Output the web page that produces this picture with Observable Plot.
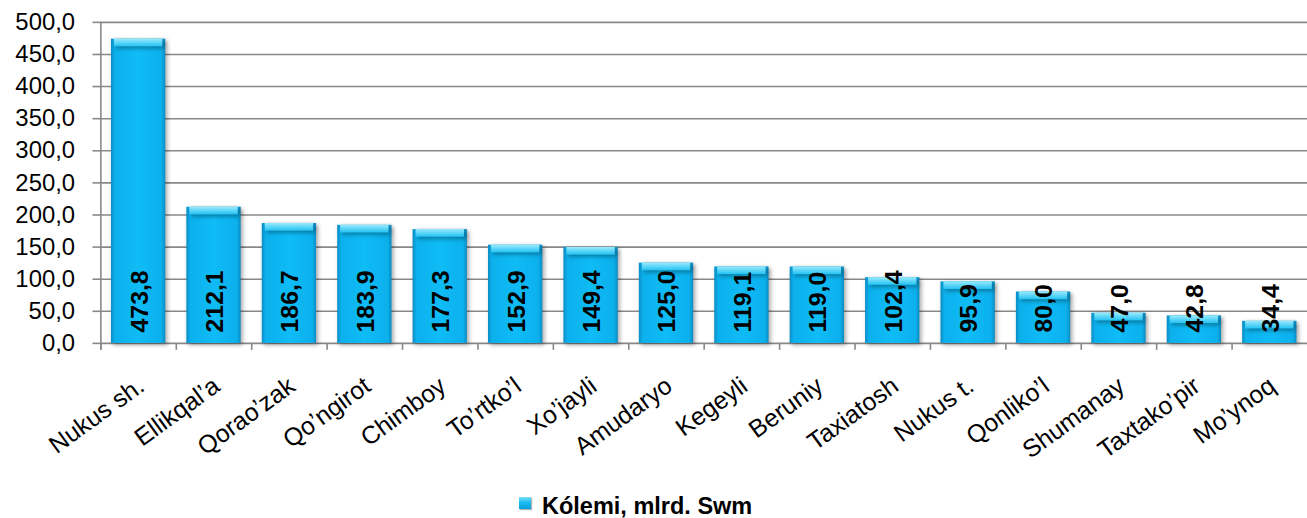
<!DOCTYPE html>
<html>
<head>
<meta charset="utf-8">
<script src="https://cdn.jsdelivr.net/npm/d3@7"></script>
<script src="https://cdn.jsdelivr.net/npm/@observablehq/plot@0.6"></script>
<style>
  html, body { margin: 0; padding: 0; background: #fff; overflow: hidden; }
  body { width: 1307px; height: 518px; position: relative; font-family: "Liberation Sans", Arial, sans-serif; }
  #chart svg { display: block; }
  .sw { position: absolute; left: 519px; top: 497px; width: 12px; height: 12px;
        background: linear-gradient(180deg, #7fe0fa 0%, #19bdf2 45%, #0a9fdc 100%);
        box-shadow: 1px 1px 1px rgba(0,0,0,0.3); }
  .lt { position: absolute; left: 542px; top: 494px; font: bold 23.5px "Liberation Sans", Arial, sans-serif;
        line-height: 24px; color: #000; white-space: nowrap; }
</style>
</head>
<body>
<div id="chart"></div>
<script>
const categories = ["Nukus sh.", "Ellikqal’a", "Qorao’zak", "Qo’ngirot", "Chimboy", "To’rtko’l", "Xo’jayli", "Amudaryo", "Kegeyli", "Beruniy", "Taxiatosh", "Nukus t.", "Qonliko’l", "Shumanay", "Taxtako’pir", "Mo’ynoq"];
const values = [473.8, 212.1, 186.7, 183.9, 177.3, 152.9, 149.4, 125.0, 119.1, 119.0, 102.4, 95.9, 80.0, 47.0, 42.8, 34.4];
const yTicks = [0, 50, 100, 150, 200, 250, 300, 350, 400, 450, 500];
const seriesName = "Kólemi, mlrd. Swm";

const data = categories.map((c, i) => ({category: c, value: values[i]}));
const fmt = v => v.toFixed(1).replace(".", ",");
const gray = "#888888";
const capDepth = 12; // bevel depth in value units

const defs = () => {
  const g = d3.create("svg:defs");
  const bg = g.append("linearGradient").attr("id", "barGrad").attr("x1", 0).attr("x2", 1).attr("y1", 0).attr("y2", 0);
  [["0%", "#0a8cc4"], ["7%", "#0cb0ec"], ["50%", "#0fbcf5"], ["93%", "#0cb0ec"], ["100%", "#0a8cc4"]]
    .forEach(([o, c]) => bg.append("stop").attr("offset", o).attr("stop-color", c));
  const cg = g.append("linearGradient").attr("id", "capGrad").attr("x1", 0).attr("x2", 0).attr("y1", 0).attr("y2", 1);
  [["0%", "#9aeafc"], ["60%", "#52d2f7"], ["100%", "#22c2f3"]]
    .forEach(([o, c]) => cg.append("stop").attr("offset", o).attr("stop-color", c));
  return g.node();
};

const chart = Plot.plot({
  width: 1315,
  height: 485,
  marginTop: 22,
  marginBottom: 140,
  marginLeft: 101,
  marginRight: 0,
  style: {fontFamily: "'Liberation Sans', Arial, sans-serif", background: "white", overflow: "visible"},
  x: {domain: categories, paddingInner: 0.28, paddingOuter: 0.14, round: false, axis: null},
  y: {domain: [0, 500], axis: null},
  marks: [
    defs,
    Plot.ruleY(yTicks, {stroke: gray, strokeWidth: 1.6}),
    Plot.axisY(yTicks, {label: null, tickSize: 8, tickPadding: 18, tickFormat: fmt, fontSize: 24, stroke: gray, strokeWidth: 1.6, fill: "black"}),
    Plot.ruleX(categories, {x: d => d, dx: -37.94, y1: 0, y2: 0, insetBottom: -7, stroke: gray, strokeWidth: 1.6}),
    Plot.ruleX([categories[0]], {x: d => d, dx: -37.94, y1: 500, y2: 0, insetBottom: -7, stroke: gray, strokeWidth: 1.6}),
    Plot.barY(data, {x: "category", y: "value", fill: "url(#barGrad)"}),
    Plot.barY(data, {x: "category", y1: d => d.value, y2: d => d.value - capDepth, fill: "url(#capGrad)", insetLeft: 3, insetRight: 3}),
    Plot.text(data, {x: "category", y: 0, text: d => fmt(d.value), rotate: -90, textAnchor: "start", dx: 1, dy: -11, fontSize: 25, fontWeight: "bold", fill: "black"}),
    Plot.text(categories, {x: d => d, frameAnchor: "bottom", text: d => d, rotate: -36, textAnchor: "end", lineAnchor: "top", dx: -3, dy: 32, fontSize: 25, fill: "black"})
  ]
});

d3.select(chart).selectAll("g[aria-label=bar]").style("filter", "drop-shadow(2px 2px 2px rgba(0,0,0,0.35))");
d3.select(chart).selectAll("g[aria-label=bar]:last-of-type").style("filter", null);
document.getElementById("chart").appendChild(chart);

const sw = document.createElement("span"); sw.className = "sw"; document.body.appendChild(sw);
const lt = document.createElement("span"); lt.className = "lt"; lt.textContent = seriesName; document.body.appendChild(lt);
</script>
</body>
</html>
